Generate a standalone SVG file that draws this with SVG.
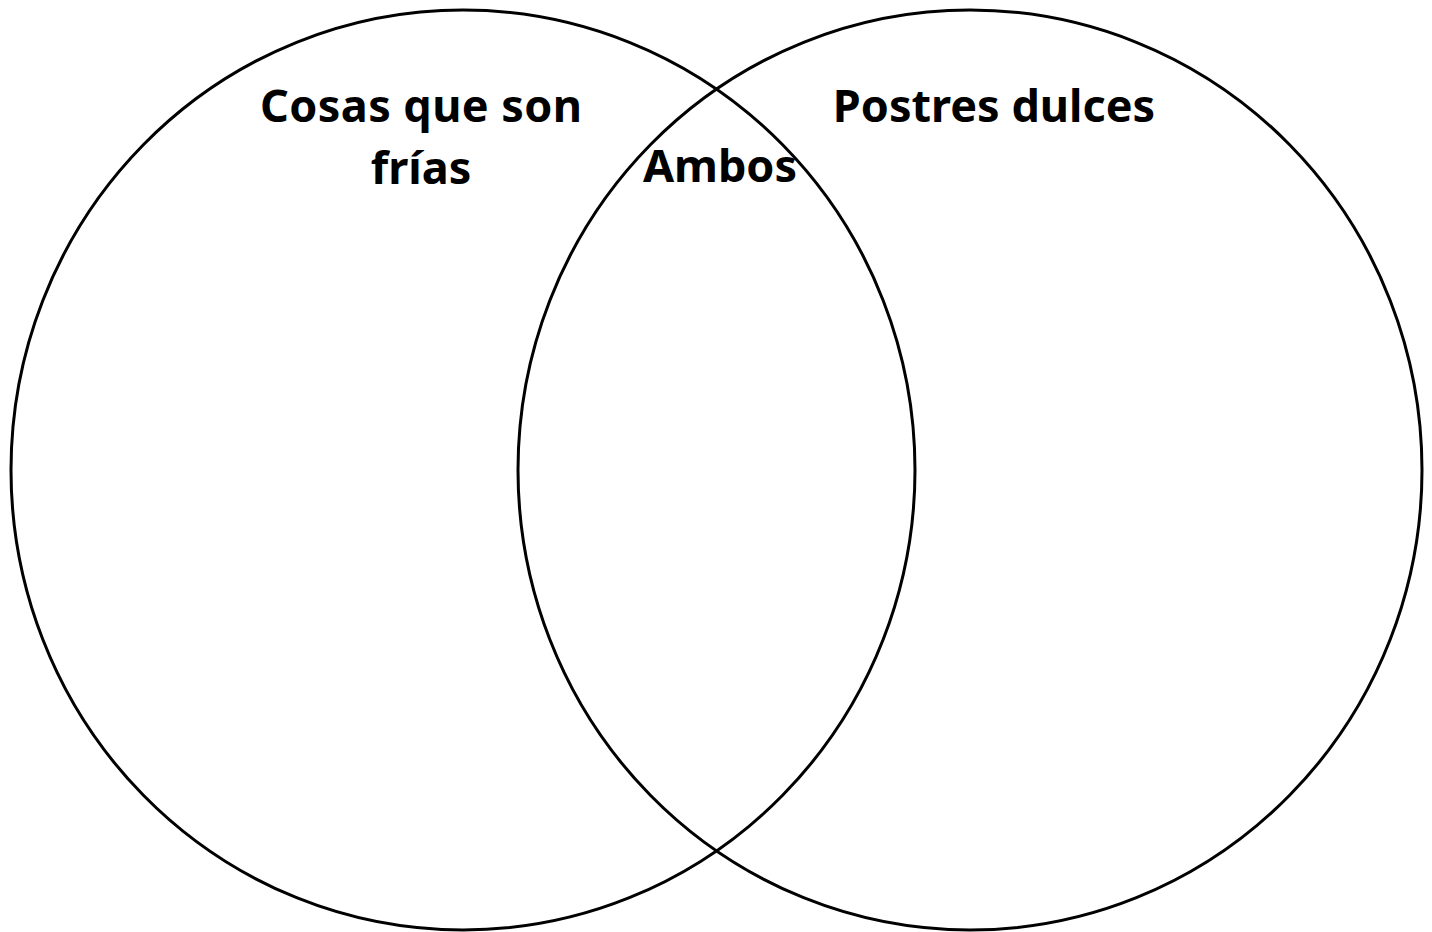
<svg xmlns="http://www.w3.org/2000/svg" width="1432" height="932" viewBox="0 0 1432 932">
<style>
.c{fill:none;stroke:#000;stroke-width:3}
.t{font-family:"Noto Sans","Open Sans",sans-serif;font-weight:bold;font-size:45px;fill:#000;text-anchor:middle}
</style>
<rect width="1432" height="932" fill="#fff"/>
<g id="left">
<ellipse class="c" cx="463" cy="470" rx="452" ry="460"/>
<text class="t" x="421" y="122" textLength="322" lengthAdjust="spacing">Cosas que son</text>
<text class="t" x="421" y="184">frías</text>
</g>
<g id="right">
<ellipse class="c" cx="970" cy="470" rx="452" ry="460"/>
<text class="t" x="994" y="122">Postres dulces</text>
</g>
<g id="both">
<text class="t" x="720" y="182">Ambos</text>
</g>
</svg>
